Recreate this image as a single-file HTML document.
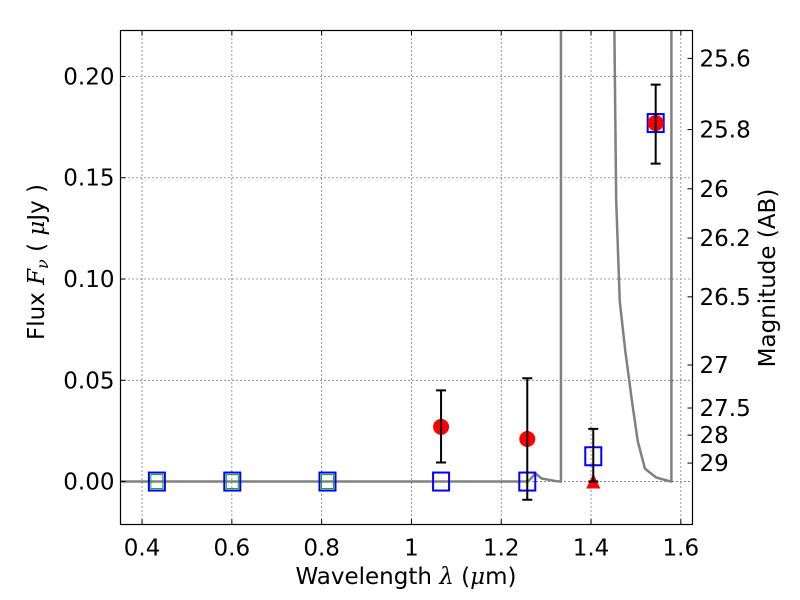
<!DOCTYPE html>
<html><head><meta charset="utf-8"><style>
body{margin:0;background:#fff;}
svg{display:block;font-family:"DejaVu Sans","Liberation Sans",sans-serif;}
</style></head><body>
<svg id="c" width="800" height="600" viewBox="0 0 800 600" xmlns="http://www.w3.org/2000/svg">
<rect width="800" height="600" fill="#fff"/>
<g id="grid"></g>
<g id="curve"></g>
<g id="marks"></g>
<rect x="120.5" y="30.5" width="572" height="494" fill="none" stroke="#000" stroke-width="1.2"/>
<g id="axes"></g>
<text x="406" y="584" font-size="23" text-anchor="middle">Wavelength  <tspan font-family="DejaVu Serif" font-style="italic">λ</tspan> (<tspan font-family="DejaVu Serif" font-style="italic">μ</tspan>m)</text>
<text transform="translate(44,262) rotate(-90)" font-size="23" text-anchor="middle">Flux  <tspan font-family="DejaVu Serif" font-style="italic">F<tspan font-size="16" dy="4">ν</tspan></tspan><tspan dy="-4">  (  </tspan><tspan font-family="DejaVu Serif" font-style="italic">μ</tspan>Jy )</text>
<text transform="translate(775,278) rotate(-90)" font-size="23" text-anchor="middle">Magnitude (AB)</text>
</svg>
<script>
const xTicks=[0.4,0.6,0.8,1.0,1.2,1.4,1.6];
const xTickLabels=["0.4","0.6","0.8","1","1.2","1.4","1.6"];
const yTicks=[0,0.05,0.10,0.15,0.20];
const yTickLabels=["0.00","0.05","0.10","0.15","0.20"];
const magTicks=[25.6,25.8,26,26.2,26.5,27,27.5,28,29];
const magTickLabels=["25.6","25.8","26","26.2","26.5","27","27.5","28","29"];
const modelWave=[0.433,0.601,0.813,1.066,1.258,1.405,1.544];
const modelFlux=[0,0,0,0,0,0.0125,0.177];
const obsWave=[1.066,1.258,1.544];
const obsFlux=[0.027,0.021,0.177];
const obsErrLo=[0.0176,0.030,0.020];
const obsErrHi=[0.018,0.030,0.019];
const limWave=[1.405];
const limFlux=[0];
const limErr=[0.026];
const greenWave=[0.433,0.601,0.813];
const greenFlux=[0,0,0];
const specWave=[0.352,1.26,1.276,1.29,1.32,1.333,1.333,1.452,1.452,1.456,1.464,1.476,1.491,1.504,1.52,1.545,1.578,1.579,1.579];
const specFlux=[0,0,0.004,0.0015,0.0003,0,0.3,0.3,0.223,0.139,0.089,0.065,0.04,0.02,0.0064,0.002,0,0,0.3];
const X0=0.352,X1=1.626,Y0=-0.0212,Y1=0.2227,L=120.5,R=692.5,T=30.5,B=524.5;
const sx=v=>L+(v-X0)/(X1-X0)*(R-L);
const sy=v=>B-(v-Y0)/(Y1-Y0)*(B-T);
const magToFlux=m=>Math.pow(10,(23.9-m)/2.5);
const NS="http://www.w3.org/2000/svg";
function mk(p,t,a){const e=document.createElementNS(NS,t);for(const k in a)e.setAttribute(k,a[k]);p.appendChild(e);return e;}
const grid=document.getElementById('grid'),axes=document.getElementById('axes'),marks=document.getElementById('marks'),curve=document.getElementById('curve');
xTicks.forEach((v,i)=>{const x=sx(v);
 let g=mk(grid,'line',{x1:x,x2:x,y1:T,y2:B,stroke:'#000','stroke-width':0.8,'stroke-dasharray':'1,3'});
 
 let t=mk(axes,'line',{x1:x,x2:x,y1:B,y2:B-5,stroke:'#000'});
 let t2=mk(axes,'line',{x1:x,x2:x,y1:T,y2:T+5,stroke:'#000'});
 let l=mk(axes,'text',{x:x,y:B+31,'font-size':23,'text-anchor':'middle'});l.textContent=xTickLabels[i];
 });
yTicks.forEach((v,i)=>{const y=sy(v);
 let g=mk(grid,'line',{x1:L,x2:R,y1:y,y2:y,stroke:'#000','stroke-width':0.8,'stroke-dasharray':'1,3'});
 
 let t=mk(axes,'line',{x1:L,x2:L+5,y1:y,y2:y,stroke:'#000'});
 let l=mk(axes,'text',{x:L-6,y:y+8,'font-size':23,'text-anchor':'end'});l.textContent=yTickLabels[i];
 });
magTicks.forEach((m,i)=>{const y=sy(magToFlux(m));
 let t=mk(axes,'line',{x1:R,x2:R-5,y1:y,y2:y,stroke:'#000'});
 let l=mk(axes,'text',{x:R+7,y:y+8,'font-size':23});l.textContent=magTickLabels[i];
 });
let cp=document.createElementNS(NS,'clipPath');cp.id='clip';document.getElementById('c').appendChild(cp);
mk(cp,'rect',{x:L,y:T,width:R-L,height:B-T});
curve.setAttribute('clip-path','url(#clip)');
const sp=mk(curve,'polyline',{points:specWave.map((w,i)=>sx(w)+','+sy(specFlux[i])).join(' '),fill:'none',stroke:'#808080','stroke-width':2.5,'stroke-linejoin':'round'});

modelWave.forEach((w,i)=>{const x=sx(w),y=sy(modelFlux[i]);
 const r=mk(marks,'rect',{x:x-8,y:y-9,width:16,height:18,fill:'none',stroke:'#0000ff','stroke-width':2});
 });
greenWave.forEach((w,i)=>{const x=sx(w),y=sy(greenFlux[i]);
 const r=mk(marks,'rect',{x:x-6,y:y-7,width:12,height:14,fill:'none',stroke:'#00b000','stroke-width':1});
 });
obsWave.forEach((w,i)=>{const x=sx(w),y=sy(obsFlux[i]);
 const c=mk(marks,'circle',{cx:x,cy:y,r:8,fill:'#ff0000'});
 
 const y1=sy(obsFlux[i]+obsErrHi[i]),y2=sy(obsFlux[i]-obsErrLo[i]);
 const e=mk(marks,'path',{d:`M${x},${y1}V${y2}M${x-5},${y1}H${x+5}M${x-5},${y2}H${x+5}`,stroke:'#000','stroke-width':2,fill:'none'});
 });
limWave.forEach((w,i)=>{const x=sx(w),y=sy(limFlux[i]);
 const p=mk(marks,'polygon',{points:`${x},${y-8} ${x-7},${y+7} ${x+7},${y+7}`,fill:'#ff0000'});
 
 const y1=sy(limFlux[i]+limErr[i]);
 const e=mk(marks,'path',{d:`M${x},${y1}V${y}M${x-5},${y1}H${x+5}M${x-5},${y}H${x+5}`,stroke:'#000','stroke-width':2,fill:'none'});
 });
</script>
</body></html>
